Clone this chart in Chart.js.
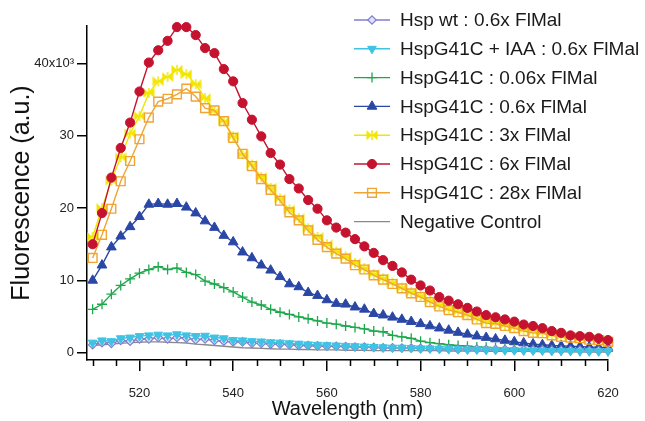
<!DOCTYPE html>
<html>
<head>
<meta charset="utf-8">
<script src="https://cdn.jsdelivr.net/npm/chart.js@4.4.1/dist/chart.umd.min.js"></script>
<style>
html,body{margin:0;padding:0;background:#fff;}
#wrap{width:645px;height:421px;}
</style>
</head>
<body>
<div id="wrap"><canvas id="c" width="645" height="421"></canvas></div>
<script>
// ---- data (fluorescence in units of 10^3 a.u.) ----
const wavelengths = [];
for (let w = 510; w <= 620; w += 2) wavelengths.push(w);

const seriesNames = [
  "Hsp wt : 0.6x FlMal",
  "HspG41C + IAA : 0.6x FlMal",
  "HspG41C : 0.06x FlMal",
  "HspG41C : 0.6x FlMal",
  "HspG41C : 3x FlMal",
  "HspG41C : 6x FlMal",
  "HspG41C : 28x FlMal",
  "Negative Control"
];

const hspWt = [1.1,1.4,1.3,1.7,1.6,1.9, 1.9,2.1,1.9,2.1,2.0,1.8,1.9,1.7,1.6,1.5, 1.5,1.3,1.3,1.2,1.2,1.1,1.0,1.0,0.95,0.9, 0.9,0.85,0.8,0.8,0.75,0.7,0.7,0.65,0.65,0.6, 0.6,0.55,0.55,0.5,0.5,0.5,0.45,0.45,0.45,0.4, 0.4,0.4,0.4,0.35,0.35,0.35,0.35,0.3,0.3,0.3];
const g41cIaa = [1.4,1.7,1.6,2.0,2.1,2.3, 2.4,2.5,2.4,2.55,2.4,2.3,2.35,2.1,2.0,1.75, 1.7,1.6,1.55,1.45,1.4,1.3,1.25,1.15,1.1,1.05, 1.0,0.95,0.9,0.85,0.8,0.75,0.7,0.7,0.65,0.6, 0.6,0.55,0.5,0.5,0.45,0.45,0.4,0.4,0.35,0.35, 0.3,0.3,0.3,0.25,0.25,0.25,0.2,0.2,0.2,0.2];
const g41c006 = [6.0,6.7,8.1,9.3,10.2,11.0, 11.5,11.9,11.5,11.7,11.1,10.8,9.9,9.5,9.0,8.4, 7.7,7.0,6.6,6.0,5.6,5.3,4.95,4.7,4.4,4.1, 3.95,3.7,3.5,3.3,3.0,2.9,2.4,2.2,2.0,1.6, 1.4,1.25,1.1,1.0,0.9,0.8,0.75,0.7,0.6,0.55, 0.5,0.45,0.4,0.4,0.35,0.3,0.3,0.25,0.25,0.2];
const g41c06 = [10.0,12.1,14.6,16.1,17.4,18.8, 20.5,20.6,20.5,20.6,20.1,19.3,18.2,17.3,16.2,15.3, 13.9,13.1,12.1,11.4,10.5,9.5,9.1,8.3,7.9,7.3, 6.8,6.7,6.3,6.0,5.4,5.2,4.9,4.6,4.3,4.0, 3.7,3.4,3.1,2.8,2.55,2.3,2.1,1.9,1.7,1.5, 1.35,1.2,1.1,1.0,0.95,0.9,0.85,0.8,0.75,0.7];
const g41c3 = [16.0,20.0,23.8,27.0,30.3,32.7, 35.9,37.5,38.1,39.1,38.5,37.1,35.2,33.4,32.0,29.9, 27.4,26.0,24.3,22.8,21.3,19.8,18.6,17.2,16.0,15.0, 14.0,13.3,12.4,11.7,10.9,10.3,9.7,9.0,8.4,7.9, 7.2,6.6,6.1,5.7,5.3,4.8,4.3,4.1,3.8,3.5, 3.2,2.9,2.8,2.5,2.3,2.2,2.0,1.9,1.8,1.6];
const g41c6 = [15.0,19.3,24.2,28.3,31.8,36.1, 40.1,41.8,43.1,45.0,45.0,43.9,42.1,41.4,39.2,37.5, 34.5,32.2,29.9,27.6,26.0,24.0,22.7,21.1,19.9,18.3, 17.3,16.6,15.7,14.7,13.8,12.8,12.0,11.1,10.1,9.3, 8.6,7.7,7.2,6.7,6.2,5.7,5.2,4.9,4.6,4.3, 3.9,3.7,3.4,3.0,2.75,2.4,2.3,2.2,2.0,1.75];
const g41c28 = [13.1,16.3,19.9,23.7,26.5,29.5, 32.5,34.7,35.1,35.7,36.5,35.4,33.8,33.5,32.0,29.7, 27.5,25.8,24.0,22.5,21.0,19.4,18.3,16.9,15.6,14.6, 13.7,13.0,12.1,11.5,10.7,10.1,9.5,8.9,8.2,7.7, 7.0,6.4,5.9,5.6,5.2,4.6,4.1,4.0,3.7,3.4, 3.0,2.75,2.7,2.4,2.2,2.1,2.0,1.8,1.75,1.5];
const negControl = [1.0,1.1,1.2,1.3,1.4,1.45, 1.5,1.5,1.45,1.4,1.35,1.2,1.1,1.0,0.9,0.8, 0.7,0.65,0.6,0.55,0.5,0.5,0.45,0.45,0.4,0.4, 0.4,0.35,0.35,0.35,0.3,0.3,0.3,0.3,0.3,0.3, 0.3,0.3,0.25,0.25,0.25,0.25,0.2,0.2,0.2,0.2, 0.2,0.2,0.15,0.15,0.15,0.15,0.1,0.1,0.1,0.1];

const xTickValues = [520, 540, 560, 580, 600, 620];
const xMinorValues = [510, 515, 525, 530, 535, 545, 550, 555, 565, 570, 575, 585, 590, 595, 605, 610, 615];
const yTickValues = [0, 10, 20, 30, 40];
const yTickLabels = ["0", "10", "20", "30", "40x10\u00B3"];

// ---- styles ----
const FONT = "'Liberation Sans', Arial, Helvetica, sans-serif";
Chart.defaults.font.family = FONT;

function bowtie(color) {
  const c = document.createElement('canvas');
  c.width = 12; c.height = 12;
  const g = c.getContext('2d');
  g.fillStyle = color;
  g.beginPath();
  g.moveTo(0.5, 1); g.lineTo(0.5, 11); g.lineTo(6, 6); g.closePath();
  g.moveTo(11.5, 1); g.lineTo(11.5, 11); g.lineTo(6, 6); g.closePath();
  g.fill();
  g.strokeStyle = color; g.lineWidth = 1.5;
  g.beginPath(); g.moveTo(6, 1); g.lineTo(6, 11); g.stroke();
  return c;
}

const styles = [
  {color:'#7f7fcc', fill:'rgba(225,225,250,1)', pointStyle:'rectRot', radius:4.2, rotation:0, bw:1.2},
  {color:'#3ec3e3', fill:'#3ec3e3', pointStyle:'triangle', radius:5, rotation:180, bw:1},
  {color:'#1da84c', fill:'#1da84c', pointStyle:'cross', radius:5, rotation:0, bw:1.3},
  {color:'#2a47a6', fill:'#2a47a6', pointStyle:'triangle', radius:5.6, rotation:0, bw:1},
  {color:'#f2e600', fill:'#f2e600', pointStyle:bowtie('#f2e600'), radius:6, rotation:0, bw:1},
  {color:'#c5122f', fill:'#c5122f', pointStyle:'circle', radius:4.6, rotation:0, bw:1},
  {color:'#f0a434', fill:'rgba(255,255,255,0)', pointStyle:'rect', radius:6.2, rotation:0, bw:1.4},
  {color:'#8a8a8a', fill:'#8a8a8a', pointStyle:false, radius:0, rotation:0, bw:0}
];

const allSeries = [hspWt, g41cIaa, g41c006, g41c06, g41c3, g41c6, g41c28, negControl];
// draw order: higher `order` drawn first (below)
const drawOrder = [3, 2, 5, 6, 7, 1, 4, 8];

const datasets = allSeries.map((vals, i) => ({
  label: seriesNames[i],
  data: wavelengths.map((w, k) => ({x: w, y: vals[k]})),
  borderColor: styles[i].color,
  backgroundColor: styles[i].fill,
  borderWidth: 1.4,
  pointStyle: styles[i].pointStyle,
  pointRadius: styles[i].radius,
  pointRotation: styles[i].rotation,
  pointBorderWidth: styles[i].bw,
  pointBorderColor: styles[i].color,
  pointBackgroundColor: styles[i].fill,
  tension: 0,
  fill: false,
  clip: false,
  order: drawOrder[i]
}));

// minor x ticks + in-plot legend
const extras = {
  id: 'extras',
  afterDraw(chart) {
    const ctx = chart.ctx;
    const xs = chart.scales.x;
    const bottom = chart.chartArea.bottom;
    ctx.save();
    ctx.strokeStyle = '#000';
    ctx.lineWidth = 1.5;
    xMinorValues.forEach(v => {
      const px = Math.round(xs.getPixelForValue(v)) + 0.5;
      ctx.beginPath(); ctx.moveTo(px, bottom); ctx.lineTo(px, bottom + 6); ctx.stroke();
    });
    // legend
    const x0 = 354, x1 = 390, xm = 372, xt = 400;
    let y = 20;
    const step = 28.8;
    ctx.font = '19px ' + FONT;
    ctx.textBaseline = 'middle';
    ctx.textAlign = 'left';
    chart.data.datasets.forEach((ds, i) => {
      const st = styles[i];
      ctx.strokeStyle = st.color;
      ctx.lineWidth = 1.4;
      ctx.beginPath(); ctx.moveTo(x0, y); ctx.lineTo(x1, y); ctx.stroke();
      if (st.pointStyle) {
        ctx.fillStyle = st.fill;
        ctx.strokeStyle = st.color;
        ctx.lineWidth = st.bw;
        Chart.helpers.drawPoint(ctx, {pointStyle: st.pointStyle, rotation: st.rotation, radius: st.radius, borderWidth: st.bw}, xm, y);
      }
      ctx.fillStyle = '#1a1a1a';
      ctx.fillText(ds.label, xt, y + 1);
      y += step;
    });
    ctx.restore();
  }
};

new Chart(document.getElementById('c'), {
  type: 'line',
  data: { datasets },
  options: {
    responsive: false,
    animation: false,
    devicePixelRatio: 1,
    layout: { padding: { top: 26, right: 37, left: 0, bottom: 0 } },
    plugins: { legend: { display: false }, tooltip: { enabled: false } },
    scales: {
      x: {
        type: 'linear',
        min: 508.8,
        max: 620,
        afterBuildTicks: s => { s.ticks = xTickValues.map(v => ({value: v})); },
        afterFit: s => { s.height = 61; },
        grid: { drawOnChartArea: false, drawTicks: true, tickLength: 11, color: '#000', lineWidth: 1.5 },
        border: { display: true, color: '#000', width: 1.5 },
        ticks: { color: '#222', font: { size: 13 }, padding: 15, maxRotation: 0, autoSkip: false },
        title: { display: true, text: 'Wavelength (nm)', color: '#111', font: { size: 20 }, padding: { top: 0, bottom: 0 } }
      },
      y: {
        type: 'linear',
        min: -1,
        max: 45.15,
        afterBuildTicks: s => { s.ticks = yTickValues.map(v => ({value: v})); },
        afterFit: s => { s.width = 87; },
        grid: { drawOnChartArea: false, drawTicks: true, tickLength: 10, color: '#000', lineWidth: 1.5 },
        border: { display: true, color: '#000', width: 1.5 },
        ticks: {
          color: '#222', font: { size: 13 }, padding: 3,
          callback: (v) => { const k = yTickValues.indexOf(v); return k >= 0 ? yTickLabels[k] : ''; }
        },
        title: { display: true, text: 'Fluorescence (a.u.)', color: '#111', font: { size: 25 }, padding: { top: 7, bottom: 0 } }
      }
    }
  },
  plugins: [extras]
});
</script>
</body>
</html>
